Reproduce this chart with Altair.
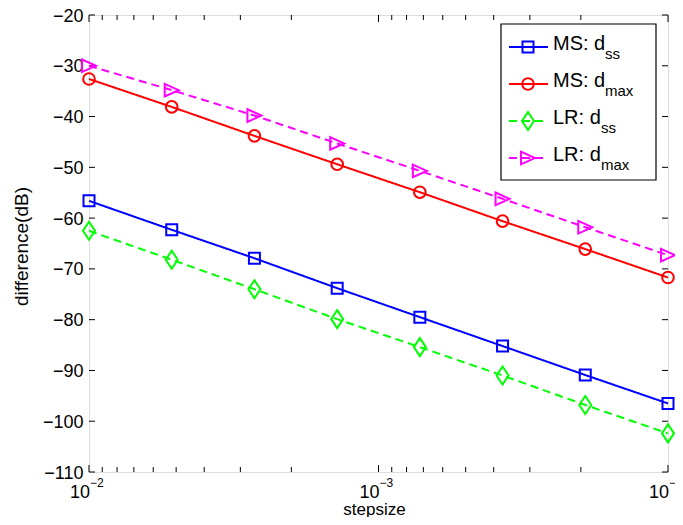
import altair as alt
import pandas as pd

# ---------------- data ----------------
stepsize = [1.0e-2, 5.179e-3, 2.683e-3, 1.389e-3, 7.197e-4, 3.728e-4, 1.931e-4, 1.0e-4]
ms_dss = [-56.6, -62.3, -67.9, -73.8, -79.5, -85.2, -90.9, -96.5]
ms_dmax = [-32.6, -38.1, -43.8, -49.4, -54.9, -60.6, -66.1, -71.7]
lr_dss = [-62.5, -68.2, -74.0, -79.9, -85.4, -91.0, -96.8, -102.4]
lr_dmax = [-30.0, -34.8, -39.8, -45.3, -50.7, -56.2, -61.8, -67.3]

legend_main = ["MS: d", "MS: d", "LR: d", "LR: d"]
legend_sub = ["ss", "max", "ss", "max"]

y_ticks = [-20, -30, -40, -50, -60, -70, -80, -90, -100, -110]
x_major = [1e-2, 1e-3, 1e-4]
x_major_exp = ["\u22122", "\u22123", "\u22124"]
x_minor = [9e-3, 8e-3, 7e-3, 6e-3, 5e-3, 4e-3, 3e-3, 2e-3,
           9e-4, 8e-4, 7e-4, 6e-4, 5e-4, 4e-4, 3e-4, 2e-4]

# ---------------- styles ----------------
FONT = "Liberation Sans"
W, H = 579, 457
series = [
    (ms_dss, "#0000ff", [1, 0], "square", 121),
    (ms_dmax, "#ff0000", [1, 0], "circle", 135),
    (lr_dss, "#00ff00", [8, 5], "M0,-1.5L1,0L0,1.5L-1,0Z", 144),
    (lr_dmax, "#ff00ff", [8, 5], "M-1,-0.9L1,0L-1,0.9Z", 196),
]

xscale = alt.Scale(type="log", domain=[1e-4, 1e-2], reverse=True, nice=False)
yscale = alt.Scale(domain=[-110, -20], nice=False, zero=False)

one = pd.DataFrame({"k": [0]})

layers = []

# frame axes (labels / titles only)
axis_df = pd.DataFrame({"x": x_major, "y": [-20, -65, -110]})
base_axes = alt.Chart(axis_df).mark_point(opacity=0).encode(
    x=alt.X("x:Q", scale=xscale, axis=alt.Axis(
        title="stepsize", labels=False, ticks=False, grid=False, domain=False,
        titleFontSize=17, titleFont=FONT, titleFontWeight="normal", titleColor="black",
        titleBaseline="alphabetic", titleY=42, titleX=285)),
    y=alt.Y("y:Q", scale=yscale, axis=alt.Axis(
        title="difference(dB)", values=y_ticks, format="d", grid=False, ticks=False,
        domain=False, labelFontSize=18, labelFont=FONT, labelColor="black", labelPadding=6,
        labelOffset=1,
        titleFontSize=19, titleFont=FONT, titleFontWeight="normal", titleColor="black",
        titleAngle=270, titleBaseline="alphabetic", titleX=-62, titleY=231,
        titleAlign="center")),
)
layers.append(base_axes)

# inward ticks
ydf = pd.DataFrame({"y": y_ticks})
layers.append(alt.Chart(ydf).mark_rule(color="black", strokeWidth=1).encode(
    y=alt.Y("y:Q", scale=yscale), x=alt.value(0), x2=alt.value(6)))
layers.append(alt.Chart(ydf).mark_rule(color="black", strokeWidth=1).encode(
    y=alt.Y("y:Q", scale=yscale), x=alt.value(W - 6), x2=alt.value(W)))
xmaj = pd.DataFrame({"x": x_major, "e": x_major_exp})
xmin = pd.DataFrame({"x": x_minor})
for df, ln in [(xmaj, 7), (xmin, 5)]:
    layers.append(alt.Chart(df).mark_rule(color="black", strokeWidth=1).encode(
        x=alt.X("x:Q", scale=xscale), y=alt.value(H), y2=alt.value(H - ln)))
    layers.append(alt.Chart(df).mark_rule(color="black", strokeWidth=1).encode(
        x=alt.X("x:Q", scale=xscale), y=alt.value(0), y2=alt.value(ln)))

# x tick labels 10^-k
layers.append(alt.Chart(xmaj).mark_text(
    font=FONT, fontSize=18, align="right", baseline="alphabetic", color="black", dx=1).encode(
    x=alt.X("x:Q", scale=xscale), y=alt.value(H + 26), text=alt.value("10")))
layers.append(alt.Chart(xmaj).mark_text(
    font=FONT, fontSize=12, align="left", baseline="alphabetic", color="black", dx=1).encode(
    x=alt.X("x:Q", scale=xscale), y=alt.value(H + 15), text="e:N"))

# data series
for vals, col, dash, shape, size in series:
    df = pd.DataFrame({"x": stepsize, "y": vals})
    layers.append(alt.Chart(df).mark_line(color=col, strokeWidth=2, strokeDash=dash).encode(
        x=alt.X("x:Q", scale=xscale), y=alt.Y("y:Q", scale=yscale)))
    layers.append(alt.Chart(df).mark_point(
        shape=shape, size=size, filled=False, color=col, strokeWidth=2, opacity=1).encode(
        x=alt.X("x:Q", scale=xscale), y=alt.Y("y:Q", scale=yscale)))

# legend
layers.append(alt.Chart(one).mark_rect(fill="white", stroke="black", strokeWidth=1.2).encode(
    x=alt.value(412), x2=alt.value(567), y=alt.value(9), y2=alt.value(165)))
row_y = [32, 69, 106, 143]
sub_x = [516, 516, 512, 512]
for i, (vals, col, dash, shape, size) in enumerate(series):
    ry = row_y[i]
    layers.append(alt.Chart(one).mark_rule(color=col, strokeWidth=2, strokeDash=dash).encode(
        x=alt.value(420), x2=alt.value(459), y=alt.value(ry)))
    layers.append(alt.Chart(one).mark_point(
        shape=shape, size=size, filled=False, color=col, strokeWidth=2, opacity=1).encode(
        x=alt.value(439), y=alt.value(ry)))
    layers.append(alt.Chart(one).mark_text(
        font=FONT, fontSize=20, align="left", baseline="alphabetic", color="black").encode(
        x=alt.value(464), y=alt.value(ry + 3), text=alt.value(legend_main[i])))
    layers.append(alt.Chart(one).mark_text(
        font=FONT, fontSize=15, align="left", baseline="alphabetic", color="black").encode(
        x=alt.value(sub_x[i]), y=alt.value(ry + 12), text=alt.value(legend_sub[i])))

chart = alt.layer(*layers).properties(
    width=W, height=H,
    autosize=alt.AutoSizeParams(type="none"),
    padding={"left": 81, "top": 7, "right": 7, "bottom": 45},
).configure_view(stroke="black", strokeWidth=1.5).configure(font=FONT)

chart.save("out.html", embed_options={"renderer": "svg", "actions": False})
